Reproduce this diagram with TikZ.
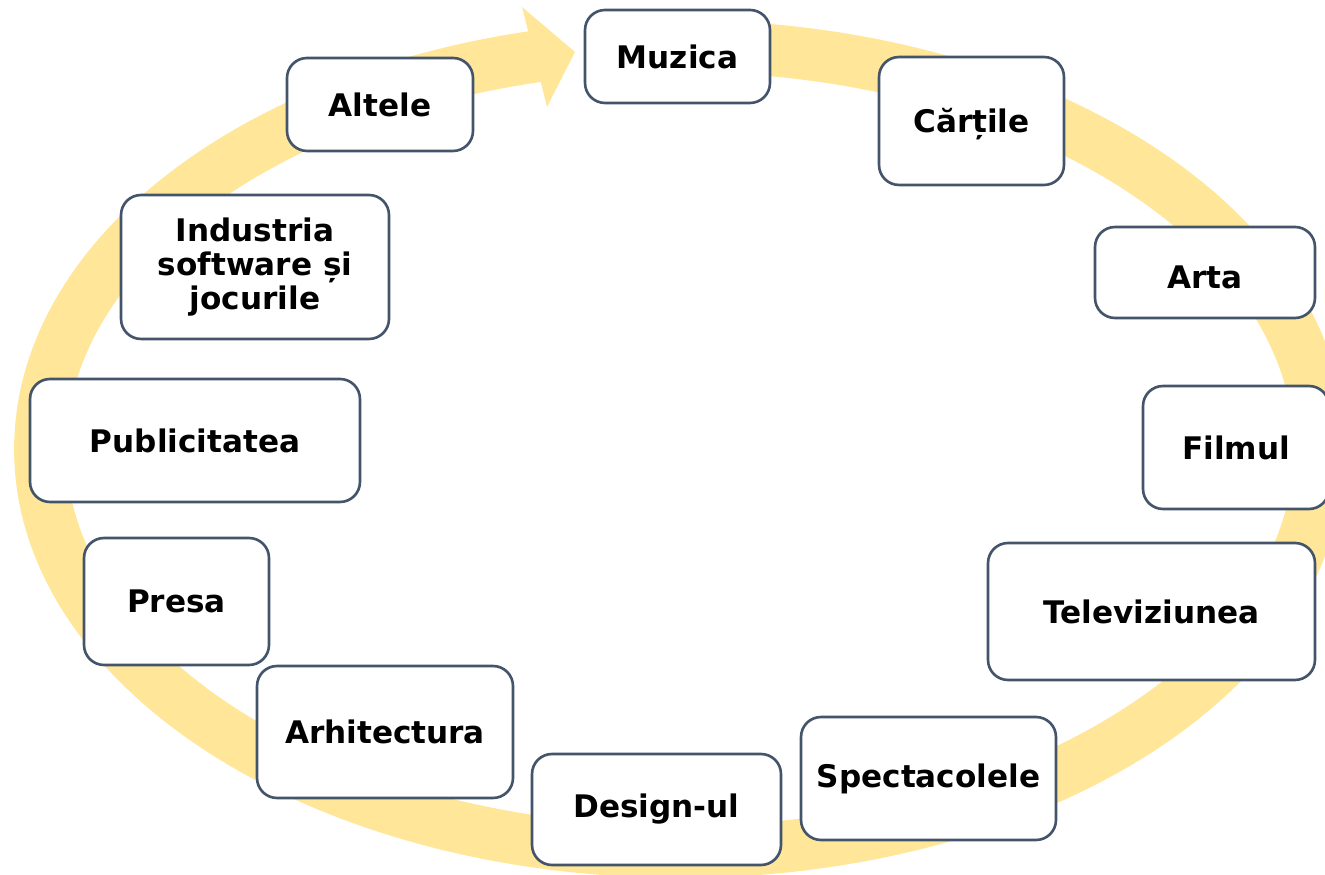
\documentclass[tikz,border=0pt]{standalone}
\usepackage{fontspec}
\setmainfont{DejaVu Sans}
\usetikzlibrary{positioning}
\definecolor{ringyellow}{HTML}{FFE699}
\definecolor{boxslate}{HTML}{44546A}
\tikzset{
	stage/.style={rectangle, draw=boxslate, line width=1.5pt, fill=white, 
	rounded corners=0.4cm, align=center, inner sep=2pt,
	font=\bfseries\fontsize{17.7}{19.6}\selectfont},
	ring/.style={draw=ringyellow, line width=1.04cm}
}
\begin{document}
\begin{tikzpicture}[x=0.02cm, y=0.02cm]
		
		\useasboundingbox (0,0) rectangle (1325,875);
		\clip (0,0) rectangle (1325,875);
		
		%Ring
		\coordinate (ringc) at (680,426);
		\draw[ring] ([shift={(85:12.8cm and 8.06cm)}]ringc) arc[start angle=85, 
		end angle=-258, x radius=12.8cm, y radius=8.06cm];
		\fill[ringyellow] (522,868) -- (575,823) -- (547,768) -- cycle;
		
		%Nodes
		\node (muzica) at (677.5,818.5) [stage, minimum width=3.7cm, minimum height=1.86cm]{Muzica};
		\node (cartile) at (971.5,754) [stage, minimum width=3.7cm, minimum height=2.56cm, text height=17pt]{Cărțile};
		\node (arta) at (1205,602.5) [stage, minimum width=4.4cm, minimum height=1.82cm, text height=18.6pt]{Arta};
		\node (filmul) at (1236,427.5) [stage, minimum width=3.72cm, minimum height=2.46cm]{Filmul};
		\node (tv) at (1151.5,263.5) [stage, minimum width=6.54cm, minimum height=2.74cm]{Televiziunea};
		\node (spectacole) at (928.5,96.5) [stage, minimum width=5.1cm, minimum height=2.46cm]{Spectacolele};
		\node (design) at (656.5,65.5) [stage, minimum width=4.98cm, minimum height=2.22cm]{Design-ul};
		\node (arhitectura) at (385,143) [stage, minimum width=5.12cm, minimum height=2.64cm]{Arhitectura};
		\node (presa) at (176.5,273.5) [stage, minimum width=3.7cm, minimum height=2.54cm]{Presa};
		\node (publicitate) at (195,434.5) [stage, minimum width=6.6cm, minimum height=2.46cm]{Publicitatea};
		\node (software) at (255,608) [stage, minimum width=5.36cm, minimum height=2.88cm]{Industria \\ 
		software și \\ jocurile};
		\node (altele) at (380,770.5) [stage, minimum width=3.72cm, minimum height=1.86cm]{Altele};
		
\end{tikzpicture}
\end{document}
